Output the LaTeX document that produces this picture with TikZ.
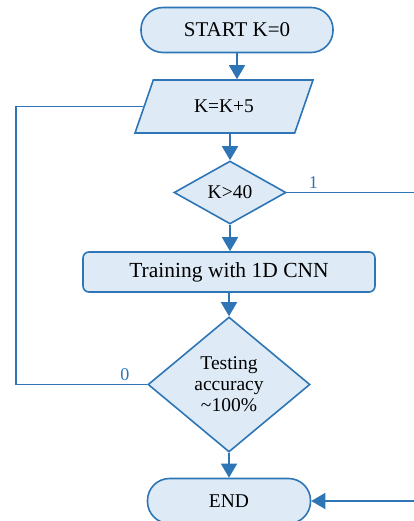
\documentclass[tikz,border=0pt]{standalone}
\usepackage{fontspec}
\setmainfont{Liberation Serif}
\usetikzlibrary{positioning, arrows.meta, shapes.geometric}
\definecolor{flowblue}{RGB}{46,117,182}
\definecolor{flowfill}{RGB}{222,235,247}

\begin{document}
\begin{tikzpicture}[x=1pt, y=-1pt, font=\rmfamily\fontsize{19.5}{21}\selectfont,
    termbox/.style={draw=flowblue, fill=flowfill, line width=1.6pt, rectangle, rounded corners=22pt, minimum height=45pt},
    procbox/.style={draw=flowblue, fill=flowfill, line width=1.6pt, rectangle, rounded corners=6pt},
    iobox/.style={draw=flowblue, fill=flowfill, line width=1.6pt, trapezium, trapezium left angle=47, trapezium right angle=133, trapezium stretches body},
    decbox/.style={draw=flowblue, fill=flowfill, line width=1.6pt, diamond, inner sep=0pt, align=center},
    flow/.style={draw=flowblue, line width=1.6pt, -{Triangle[length=14pt,width=16pt]}},
    branch/.style={text=flowblue, font=\rmfamily\fontsize{18}{20}\selectfont}]
    \useasboundingbox (0,0) rectangle (413,521);

    \node[termbox, minimum width=192pt, font=\rmfamily\fontsize{21}{22}\selectfont] (start) at (237,30) {START K=0};
    \node[iobox, minimum width=178pt, minimum height=53pt] (kk) at (224,106.5) {K=K+5};
    \node[decbox, minimum width=112pt, minimum height=63pt] (k40) at (230,192.5) {K>40};
    \node[procbox, minimum width=292pt, minimum height=40pt, font=\rmfamily\fontsize{21.5}{22}\selectfont] (train) at (229,272) {Training with 1D CNN};
    \node[decbox, minimum width=162pt, minimum height=135pt] (test) at (229,384.5) {Testing\\accuracy\\\textasciitilde100\%};
    \node[termbox, minimum width=163pt] (end) at (229,501) {END};

    % main line
    \draw[flow] (start.south) -- (start.south |- kk.north);
    \draw[flow] (kk.south -| k40.north) -- (k40.north);
    \draw[flow] (k40.south) -- (train.north -| k40.south);
    \draw[flow] (train.south) -- (test.north);
    \draw[flow] (test.south) -- (end.north);

    % loop back and exit
    \draw[draw=flowblue, line width=1.6pt] (test.west) -- node[branch, above, pos=0.17] {0} ++(-131,0) |- (kk.west);
    \draw[flow] (k40.east) -- node[branch, above, pos=0.19] {1} ++(140,0) |- (end.east);
\end{tikzpicture}
\end{document}
